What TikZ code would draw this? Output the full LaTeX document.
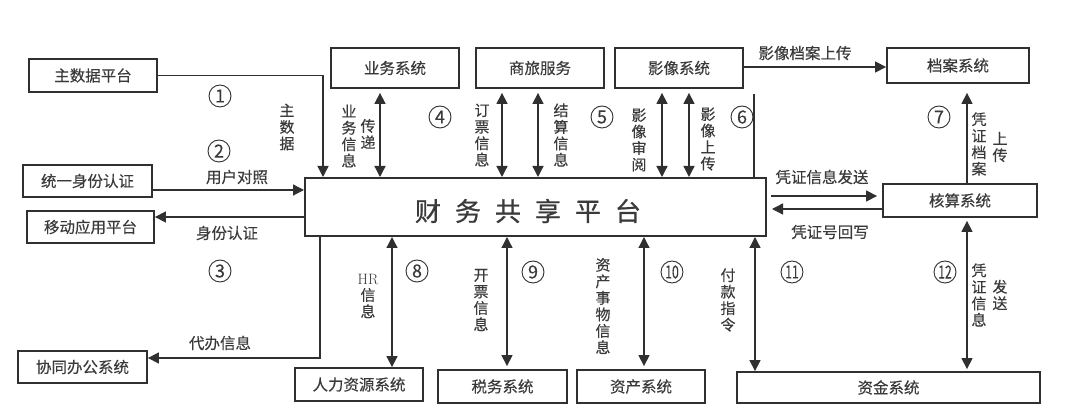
\documentclass[tikz,border=0pt]{standalone}
\usepackage{fontspec}
\newfontfamily\cjk[FakeBold=0.25]{Noto Sans CJK SC}
\newfontfamily\cjkm[FakeBold=0.8]{Noto Sans CJK SC}
\usetikzlibrary{arrows.meta,calc}
\definecolor{ink}{HTML}{303030}
\definecolor{txt}{HTML}{3A3A3A}
\begin{document}
\begin{tikzpicture}[x=1pt,y=-1pt,
  box/.style={draw=ink,line width=1.8pt,inner sep=0pt,font=\cjk\fontsize{15.5}{17}\selectfont,text=txt},
  lab/.style={inner sep=0pt,text=txt,font=\cjk\fontsize{15.5}{17}\selectfont},
  vlab/.style={inner sep=0pt,text=txt,align=center,font=\cjk\fontsize{15}{16.5}\selectfont},
  num/.style={circle,draw=ink,line width=0.9pt,minimum size=22pt,inner sep=0pt,text=txt,font=\cjk\fontsize{18}{18}\selectfont},
  conn/.style={draw=ink,line width=1.3pt},
  arr/.style={conn,-{Triangle[length=11pt,width=11pt]}},
  dbl/.style={conn,{Triangle[length=11pt,width=11pt]}-{Triangle[length=11pt,width=11pt]}}]
\useasboundingbox (0,0) rectangle (1080,419);
\fill[white] (0,0) rectangle (1080,419);

% boxes
\node[box,minimum width=128pt,minimum height=33pt] (zsj) at (93,75.5) {主数据平台};
\node[box,minimum width=129pt,minimum height=32pt] (tysf) at (87.5,181) {统一身份认证};
\node[box,minimum width=127pt,minimum height=32pt] (ydyy) at (90.5,227) {移动应用平台};
\node[box,line width=2pt,minimum width=461pt,minimum height=58pt] (main) at (535.5,207) {};
\node[lab,font=\cjkm\fontsize{26}{26}\selectfont] (maintext) at (528,211) {财\hspace{14pt}务\hspace{14pt}共\hspace{14pt}享\hspace{14pt}平\hspace{14pt}台};
\node[box,minimum width=128pt,minimum height=40pt] (ywxt) at (395,68) {业务系统};
\node[box,minimum width=128pt,minimum height=40pt] (slfw) at (540,68) {商旅服务};
\node[box,minimum width=128pt,minimum height=40pt] (yxxt) at (679,68) {影像系统};
\node[box,minimum width=142pt,minimum height=35pt] (daxt) at (958,65.5) {档案系统};
\node[box,minimum width=154pt,minimum height=33pt] (hsxt) at (960,200.5) {核算系统};
\node[box,minimum width=129pt,minimum height=32pt] (xtbg) at (82.5,367) {协同办公系统};
\node[box,minimum width=128pt,minimum height=33pt] (rlzy) at (359,384.5) {人力资源系统};
\node[box,minimum width=129pt,minimum height=33pt] (swxt) at (502.5,386.5) {税务系统};
\node[box,minimum width=128pt,minimum height=33pt] (zcxt) at (641,386.5) {资产系统};
\node[box,minimum width=303pt,minimum height=31pt] (zjxt) at (888.5,387.5) {资金系统};

% helper coordinates
\coordinate (x0) at (320,0);
\coordinate (x1) at (323,0);
\coordinate (y2) at (0,190);
\coordinate (y3) at (0,217);
\coordinate (x4) at (380,0);
\coordinate (x5a) at (502,0);
\coordinate (x5b) at (538,0);
\coordinate (x6a) at (662,0);
\coordinate (x6b) at (689,0);
\coordinate (x6c) at (754,0);
\coordinate (ya) at (0,67);
\coordinate (x7) at (967,0);
\coordinate (yA) at (0,196);
\coordinate (yB) at (0,209);
\coordinate (x8) at (392,0);
\coordinate (x9) at (507,0);
\coordinate (x10) at (644,0);
\coordinate (x11) at (755,0);
\coordinate (x12) at (967,0);
\coordinate (y0) at (0,358);

% connectors
\draw[arr] (zsj.east) -| (main.north -| x1);
\draw[arr] (tysf.east |- y2) -- (main.west |- y2);
\draw[arr] (main.west |- y3) -- (ydyy.east |- y3);
\draw[dbl,shorten <=4pt] (ywxt.south -| x4) -- (main.north -| x4);
\draw[dbl,shorten <=4pt] (slfw.south -| x5a) -- (main.north -| x5a);
\draw[dbl,shorten <=4pt] (slfw.south -| x5b) -- (main.north -| x5b);
\draw[dbl,shorten <=4pt] (yxxt.south -| x6a) -- (main.north -| x6a);
\draw[dbl,shorten <=4pt] (yxxt.south -| x6b) -- (main.north -| x6b);
\draw[conn,shorten <=5pt] (yxxt.south -| x6c) -- (main.north -| x6c);
\draw[arr] (yxxt.east |- ya) -- (daxt.west |- ya);
\draw[arr,shorten >=9pt] (hsxt.north -| x7) -- (daxt.south -| x7);
\draw[arr,shorten <=4pt,shorten >=5pt] (main.east |- yA) -- (hsxt.west |- yA);
\draw[arr,shorten >=5pt] (hsxt.west |- yB) -- (main.east |- yB);
\draw[dbl] (main.south -| x8) -- (rlzy.north -| x8);
\draw[dbl,shorten >=3pt] (main.south -| x9) -- (swxt.north -| x9);
\draw[dbl,shorten >=3pt] (main.south -| x10) -- (zcxt.north -| x10);
\draw[dbl] (main.south -| x11) -- (zjxt.north -| x11);
\draw[dbl,shorten <=3pt,shorten >=2pt] (hsxt.south -| x12) -- (zjxt.north -| x12);
\draw[arr] (main.south -| x0) |- (xtbg.east |- y0);

% horizontal labels
\node[lab] (l2) at (237,177) {用户对照};
\node[lab] (l3) at (227,233) {身份认证};
\node[lab] (l0) at (220,343) {代办信息};
\node[lab] (la) at (805,53) {影像档案上传};
\node[lab] (lA) at (822,177) {凭证信息发送};
\node[lab] (lB) at (830,232) {凭证号回写};

% vertical labels
\node[vlab] (v1) at (287,127) {主\\数\\据};
\node[vlab] (v4a) at (349,136) {业\\务\\信\\息};
\node[vlab] (v4b) at (368,134) {传\\递};
\node[vlab] (v5a) at (482,135) {订\\票\\信\\息};
\node[vlab] (v5b) at (561,135) {结\\算\\信\\息};
\node[vlab] (v6a) at (639,140) {影\\像\\审\\阅};
\node[vlab] (v6b) at (708,139) {影\\像\\上\\传};
\node[vlab] (v7a) at (979,144) {凭\\证\\档\\案};
\node[vlab] (v7b) at (1000,147) {上\\传};
\node[vlab] (v8) at (368,296) {{\normalfont\fontsize{15}{16.5}\selectfont HR}\\信\\息};
\node[vlab] (v9) at (481,300) {开\\票\\信\\息};
\node[vlab] (v10) at (603,306) {资\\产\\事\\物\\信\\息};
\node[vlab] (v11) at (728,300) {付\\款\\指\\令};
\node[vlab] (v12a) at (979,295) {凭\\证\\信\\息};
\node[vlab] (v12b) at (1000,295) {发\\送};

% circled numbers
\node[num] (n1) at (220,96) {1};
\node[num] (n2) at (219,151) {2};
\node[num] (n3) at (220,271) {3};
\node[num] (n4) at (440,117) {4};
\node[num] (n5) at (602,117) {5};
\node[num] (n6) at (742,117) {6};
\node[num] (n7) at (939,117) {7};
\node[num] (n8) at (417,271) {8};
\node[num] (n9) at (533,272) {9};
\node[num] (n10) at (672,272) {\scalebox{0.68}[1]{10}};
\node[num] (n11) at (792,272) {\scalebox{0.68}[1]{11}};
\node[num] (n12) at (945,272) {\scalebox{0.68}[1]{12}};
\end{tikzpicture}
\end{document}
